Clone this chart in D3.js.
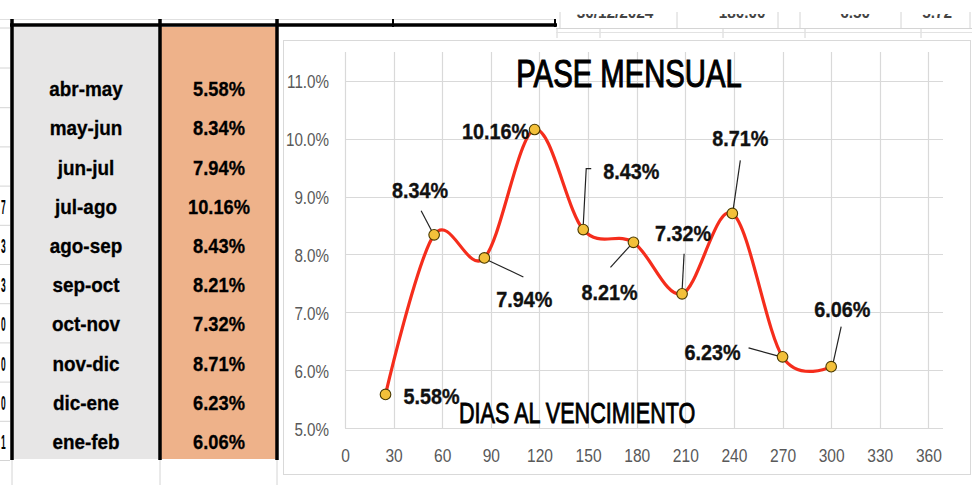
<!DOCTYPE html>
<html>
<head>
<meta charset="utf-8">
<script src="https://cdn.jsdelivr.net/npm/d3@7"></script>
<style>
  html, body { margin: 0; padding: 0; background: #fff; }
  svg { display: block; }
  text { font-family: "Liberation Sans", Arial, sans-serif; }
</style>
</head>
<body>
<svg id="chart" width="980" height="485"></svg>
<script>
// ---------------- data ----------------
const periods = ["abr-may","may-jun","jun-jul","jul-ago","ago-sep","sep-oct","oct-nov","nov-dic","dic-ene","ene-feb"];
const pase = [5.58, 8.34, 7.94, 10.16, 8.43, 8.21, 7.32, 8.71, 6.23, 6.06];
const dias = [25, 55, 86, 117, 147, 178, 208, 239, 270, 300];
const xTickValues = [0, 30, 60, 90, 120, 150, 180, 210, 240, 270, 300, 330, 360];
const yTickValues = [5, 6, 7, 8, 9, 10, 11];
const chartTitle = "PASE MENSUAL";
const xAxisTitle = "DIAS AL VENCIMIENTO";
const marginChars = ["", "", "", "7", "3", "3", "0", "0", "0", "1"];
const topRowTexts = ["30/12/2024", "180.00", "6.50", "5.72"];

// label layout (pixel offsets from each point) + leader lines
const labelLayout = [
  {dx: 46, dy: 10, leader: null},
  {dx: -14, dy: -37, leader: [[-13,-24],[-2,-3]]},
  {dx: 40, dy: 49, leader: [[3,2],[39,19]]},
  {dx: -39, dy: 9, leader: null},
  {dx: 48, dy: -51, leader: [[0,-4],[3,-61],[8,-61]]},
  {dx: -24, dy: 58, leader: [[-23,25],[-3,3]]},
  {dx: 1, dy: -53, leader: [[2,-40],[0,-3]]},
  {dx: 8, dy: -67, leader: [[8,-53],[1,-5]]},
  {dx: -70, dy: 3, leader: [[-34,-9],[-5,-1]]},
  {dx: 11, dy: -50, leader: [[10,-40],[2,-4]]}
];

const svg = d3.select("#chart");
const fmtPct = v => d3.format(".2f")(v) + "%";

function sText(g, x, y, str, opts) {
  const t = g.append("text")
    .attr("transform", `translate(${x},${y}) scale(${opts.sx || 1},1)`)
    .attr("text-anchor", opts.anchor || "middle")
    .attr("font-size", opts.size)
    .attr("font-weight", opts.weight || "normal")
    .attr("fill", opts.fill || "#000")
    .text(str);
  if (opts.stroke) t.attr("stroke", opts.fill || "#000").attr("stroke-width", opts.stroke);
  return t;
}

// ---------------- spreadsheet background ----------------
const sheet = svg.append("g");
const gridGray = "#d4d4d4";

// top-right partial row of cells
const defs = svg.append("defs");
defs.append("clipPath").attr("id", "topclip").append("rect")
  .attr("x", 556).attr("y", 14).attr("width", 420).attr("height", 5);
const topCols = [560, 677, 778, 800, 901, 970];
topCols.forEach(x => sheet.append("line").attr("x1", x).attr("x2", x).attr("y1", 12).attr("y2", 28)
  .attr("stroke", gridGray));
sheet.append("line").attr("x1", 556).attr("x2", 972).attr("y1", 28.5).attr("y2", 28.5).attr("stroke", gridGray);
[557, 600, 723, 805, 921].forEach(x => sheet.append("line").attr("x1", x).attr("x2", x).attr("y1", 29).attr("y2", 38)
  .attr("stroke", gridGray));
sheet.append("line").attr("x1", 556).attr("x2", 972).attr("y1", 32.5).attr("y2", 32.5).attr("stroke", "#e2e2e2");
const topTextX = [615, 742, 855, 937];
const topG = sheet.append("g").attr("clip-path", "url(#topclip)");
topRowTexts.forEach((t, i) => sText(topG, topTextX[i], 18, t, {size: 17, weight: "bold", sx: 0.9, fill: "#444"}));

// upper gray line above table
sheet.append("line").attr("x1", 0).attr("x2", 556).attr("y1", 19.5).attr("y2", 19.5).attr("stroke", "#e0e0e0");

// table
const rowBand = d3.scaleBand().domain(periods).range([69.5, 461.5]);
const colX = [12, 160, 277];
sheet.append("rect").attr("x", 13).attr("y", 27).attr("width", 147).attr("height", 432).attr("fill", "#e7e6e6");
sheet.append("rect").attr("x", 161).attr("y", 27).attr("width", 116).attr("height", 432).attr("fill", "#eeb28a");

// cells below table
colX.forEach(x => sheet.append("line").attr("x1", x).attr("x2", x).attr("y1", 460).attr("y2", 485).attr("stroke", gridGray));

// left margin row ticks
[28, 68].concat(periods.map(p => rowBand(p) + rowBand.bandwidth() - 1)).forEach(y =>
  sheet.append("line").attr("x1", 0).attr("x2", 10).attr("y1", y).attr("y2", y).attr("stroke", gridGray));

// characters of the previous column (only a sliver shows)
marginChars.forEach((c, i) => {
  if (c) sText(sheet, 1, rowBand(periods[i]) + rowBand.bandwidth() / 2 + 7, c, {size: 20, weight: "bold", anchor: "start", sx: 0.42});
});

// thick black borders
sheet.append("line").attr("x1", 10).attr("x2", 557).attr("y1", 25).attr("y2", 25).attr("stroke", "#000").attr("stroke-width", 3.5);
colX.forEach(x => sheet.append("line").attr("x1", x).attr("x2", x).attr("y1", 19).attr("y2", 460)
  .attr("stroke", "#000").attr("stroke-width", 3.5));
[393, 555].forEach(x => sheet.append("line").attr("x1", x).attr("x2", x).attr("y1", 19).attr("y2", 27)
  .attr("stroke", "#000").attr("stroke-width", 2));

// table text
periods.forEach((p, i) => {
  const cy = rowBand(p) + rowBand.bandwidth() / 2 + 7;
  sText(sheet, 86, cy, p, {size: 21, weight: "bold", sx: 0.9, fill: "#000", stroke: 0.3});
  sText(sheet, 219, cy, fmtPct(pase[i]), {size: 21, weight: "bold", sx: 0.87, fill: "#000", stroke: 0.3});
});

// ---------------- chart ----------------
const chart = svg.append("g");
chart.append("rect").attr("x", 283.5).attr("y", 40.5).attr("width", 687).attr("height", 434)
  .attr("fill", "#fff").attr("stroke", "#d9d9d9");

const x = d3.scaleLinear().domain([0, 369]).range([345, 943]);
const y = d3.scaleLinear().domain([5, 11.5]).range([428, 52]);

// gridlines
const grid = chart.append("g").attr("stroke", "#d9d9d9").attr("stroke-width", 1.2);
xTickValues.forEach(v => grid.append("line")
  .attr("x1", Math.round(x(v)) + 0.5).attr("x2", Math.round(x(v)) + 0.5)
  .attr("y1", y(11.5)).attr("y2", y(5)));
yTickValues.forEach(v => grid.append("line")
  .attr("x1", x(0)).attr("x2", x(369))
  .attr("y1", Math.round(y(v)) + 0.5).attr("y2", Math.round(y(v)) + 0.5));

// axes (D3 axes, styled like Excel labels)
const xAxis = d3.axisBottom(x).tickValues(xTickValues).tickSize(0).tickPadding(0).tickFormat(d3.format("d"));
const xg = chart.append("g").attr("transform", `translate(0,${y(5)})`).call(xAxis);
xg.select(".domain").remove();
xg.selectAll(".tick text")
  .attr("font-family", "Liberation Sans, Arial, sans-serif")
  .attr("font-size", 19).attr("fill", "#595959").attr("dy", null).attr("y", 34)
  .attr("transform", "scale(0.82,1)")
  .attr("x", 0);

const yAxis = d3.axisLeft(y).tickValues(yTickValues).tickSize(0).tickPadding(0).tickFormat(d => d3.format(".1f")(d) + "%");
const yg = chart.append("g").attr("transform", `translate(329,0)`).call(yAxis);
yg.select(".domain").remove();
yg.selectAll(".tick text")
  .attr("font-family", "Liberation Sans, Arial, sans-serif")
  .attr("font-size", 19).attr("fill", "#595959").attr("dy", null).attr("y", 7).attr("x", 0)
  .attr("text-anchor", "end")
  .attr("transform", "scale(0.8,1)");

// titles
sText(chart, 629, 87, chartTitle, {size: 38, sx: 0.77, fill: "#000", stroke: 1.1});
sText(chart, 459, 423, xAxisTitle, {size: 30, sx: 0.72, anchor: "start", fill: "#000", stroke: 0.9});

// line
const pts = dias.map((d, i) => [x(d), y(pase[i])]);
chart.append("path")
  .attr("d", d3.line().curve(d3.curveCardinal.tension(0))(pts))
  .attr("fill", "none").attr("stroke", "#f52d1c").attr("stroke-width", 3.2)
  .attr("stroke-linecap", "round");

// leader lines
const leaders = chart.append("g").attr("stroke", "#222").attr("stroke-width", 1.2).attr("fill", "none");
pts.forEach((p, i) => {
  const L = labelLayout[i].leader;
  if (L) leaders.append("path").attr("d", d3.line()(L.map(o => [p[0] + o[0], p[1] + o[1]])));
});

// markers
chart.append("g").selectAll("circle").data(pts).join("circle")
  .attr("cx", d => d[0]).attr("cy", d => d[1]).attr("r", 5.3)
  .attr("fill", "#f3c03a").attr("stroke", "#4a3a00").attr("stroke-width", 1.1);

// data labels
pts.forEach((p, i) => {
  const l = labelLayout[i];
  sText(chart, p[0] + l.dx, p[1] + l.dy, fmtPct(pase[i]), {size: 22, weight: "bold", sx: 0.9, fill: "#111", stroke: 0.35});
});
</script>
</body>
</html>
